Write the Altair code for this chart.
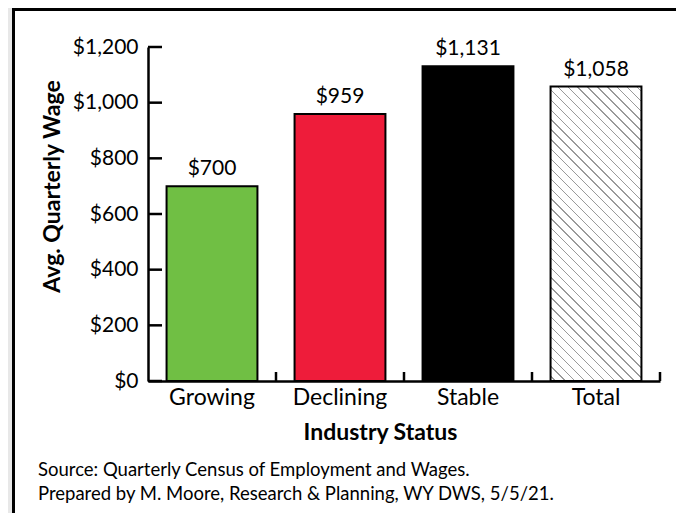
import altair as alt
import pandas as pd

categories = ["Growing", "Declining", "Stable", "Total"]
wages = [700, 959, 1131, 1058]
bar_colors = ["#70bf44", "#ee1c3a", "#000000", "#ffffff"]
y_ticks = [0, 200, 400, 600, 800, 1000, 1200]
source_lines = [
    "Source: Quarterly Census of Employment and Wages.",
    "Prepared by M. Moore, Research & Planning, WY DWS, 5/5/21.",
]

W_PLOT, H_PLOT = 512, 334
BAR_FRAC = 0.71
FONT = "Lato"

df = pd.DataFrame({"status": categories, "wage": wages})
ticks_df = pd.DataFrame({"v": y_ticks})
one = pd.DataFrame({"k": [0]})

# hatch pattern for the "Total" bar, built as a striped linear gradient
w_px = W_PLOT / len(categories) * BAR_FRAC
h_px = wages[3] / 1200 * H_PLOT
r = w_px / h_px
k = (r + 1) / (r * r + 1)
n_stripes = int(round((w_px + h_px) / 10))
thick = 1.0 / ((w_px + h_px) / 2 ** 0.5)
stops = []
for i in range(n_stripes):
    c = (i + 0.5) / n_stripes
    a, b = max(c - thick / 2, 0), min(c + thick / 2, 1)
    stops += [
        alt.GradientStop(offset=a, color="#ffffff"),
        alt.GradientStop(offset=a, color="#9a9a9a"),
        alt.GradientStop(offset=b, color="#9a9a9a"),
        alt.GradientStop(offset=b, color="#ffffff"),
    ]
hatch = alt.LinearGradient(
    gradient="linear", stops=stops, x1=1, y1=0, x2=1 - k * r, y2=k
)

x_enc = alt.X(
    "status:N",
    sort=categories,
    scale=alt.Scale(paddingInner=0, paddingOuter=0),
    axis=alt.Axis(
        title="Industry Status",
        labelAngle=0,
        ticks=False,
        grid=False,
        domainColor="black",
        domainWidth=2.5,
        labelFont=FONT,
        labelFontSize=23,
        labelColor="black",
        labelPadding=5,
        titleFont=FONT,
        titleFontSize=23,
        titleFontWeight="bold",
        titleColor="black",
        titleX=232,
        titleY=58,
        titleAlign="center",
        titleBaseline="alphabetic",
        zindex=1,
    ),
)
y_scale = alt.Scale(domain=[0, 1200], nice=False, zero=True)
y_enc = alt.Y(
    "wage:Q",
    scale=y_scale,
    axis=alt.Axis(
        title="Avg. Quarterly Wage",
        values=y_ticks,
        format="$,.0f",
        ticks=False,
        grid=False,
        domainColor="black",
        domainWidth=2.5,
        labelFont=FONT,
        labelFontSize=21,
        labelColor="black",
        labelPadding=10,
        titleFont=FONT,
        titleFontSize=23,
        titleFontWeight="bold",
        titleColor="black",
        titleX=-89,
        titleY=139,
        titleAngle=270,
        titleAlign="center",
        titleBaseline="alphabetic",
        zindex=1,
    ),
)

box = alt.Chart(one).mark_rect(
    fill="white", stroke="black", strokeWidth=3
).encode(
    x=alt.value(-134.5), x2=alt.value(700), y=alt.value(-37.5), y2=alt.value(700)
)

bars = (
    alt.Chart(df)
    .transform_filter("datum.status != 'Total'")
    .mark_bar(width=alt.RelativeBandSize(BAR_FRAC), stroke="black", strokeWidth=2)
    .encode(
        x=x_enc,
        y=y_enc,
        color=alt.Color(
            "status:N",
            scale=alt.Scale(domain=categories, range=bar_colors),
            legend=None,
        ),
    )
)

total_bar = (
    alt.Chart(df)
    .transform_filter("datum.status == 'Total'")
    .mark_bar(
        width=alt.RelativeBandSize(BAR_FRAC), fill=hatch, stroke="black", strokeWidth=2
    )
    .encode(x=x_enc, y=y_enc)
)

labels = (
    alt.Chart(df)
    .mark_text(font=FONT, fontSize=21, color="black", baseline="alphabetic", dy=-11)
    .encode(x=x_enc, y=y_enc, text=alt.Text("wage:Q", format="$,.0f"))
)

ytick_rules = (
    alt.Chart(ticks_df)
    .mark_rule(color="black", strokeWidth=2.5)
    .encode(y=alt.Y("v:Q", scale=y_scale), x=alt.value(0), x2=alt.value(14))
)

xtick_rules = (
    alt.Chart(df)
    .mark_rule(color="black", strokeWidth=2.5)
    .encode(
        x=alt.X("status:N", sort=categories, bandPosition=1),
        y=alt.value(H_PLOT),
        y2=alt.value(H_PLOT - 9),
    )
)

source = alt.Chart(one).mark_text(
    text=source_lines,
    align="left",
    baseline="top",
    lineHeight=24,
    font=FONT,
    fontSize=18.5,
    color="black",
).encode(x=alt.value(-110), y=alt.value(414))

chart = (
    alt.layer(box, bars, total_bar, ytick_rules, xtick_rules, labels, source)
    .properties(
        width=W_PLOT,
        height=H_PLOT,
        autosize="none",
        padding={"left": 140, "top": 39, "right": 16, "bottom": 132},
        background="#e8e8e8",
    )
    .configure_view(stroke=None)
)

chart.save("out.html", embed_options={"renderer": "svg", "actions": False})
